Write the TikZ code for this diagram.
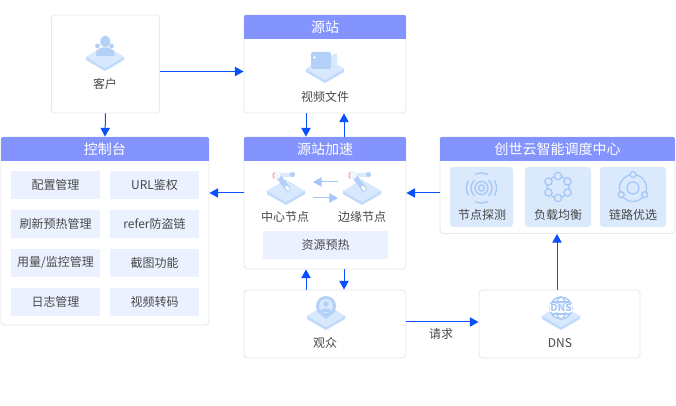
\documentclass[tikz,border=0pt]{standalone}
\usepackage{fontspec}
\setmainfont{Noto Sans CJK SC}
\usepackage{tikz}
\usetikzlibrary{positioning, arrows.meta,calc}
\definecolor{cardline}{HTML}{E8E8E8}
\definecolor{headblue}{HTML}{8494FF}
\definecolor{flowblue}{HTML}{0A50FF}
\definecolor{softblue}{HTML}{A6C8F8}
\definecolor{btnblue}{HTML}{EBF1FF}
\definecolor{tileblue}{HTML}{DAE9FC}
\definecolor{platetop}{HTML}{D7E8FF}
\definecolor{plateside}{HTML}{BFDAFB}
\definecolor{iconblue}{HTML}{B3D0F7}
\definecolor{labelgray}{HTML}{484848}
\tikzset{
	card/.style={draw=cardline, fill=white, rounded corners=2.5pt, inner sep=0pt, line width=0.7pt},
	headtext/.style={text=white, font=\fontsize{10.5pt}{12pt}\selectfont, inner sep=0pt},
	label/.style={text=labelgray, font=\fontsize{9pt}{11pt}\selectfont, inner sep=0pt},
	btn/.style={fill=btnblue, inner sep=0pt, text=labelgray, font=\fontsize{9pt}{11pt}\selectfont},
	btnsmall/.style={btn, minimum width=66.75pt, minimum height=21pt},
	tile/.style={fill=tileblue, rounded corners=2.5pt, inner sep=0pt, minimum height=45pt},
	flow/.style={-{Triangle[length=6.5pt,width=7pt]}, flowblue, line width=0.75pt},
	softflow/.style={-{Triangle[length=6.5pt,width=7pt]}, softblue, line width=0.75pt},
	softline/.style={softblue, line width=1pt},
	plate/.pic={
		\fill[plateside] (-19,0) -- (-19,3) -- (0,14) -- (19,3) -- (19,0) -- (0,-11) -- cycle;
		\fill[platetop] (-19,0) -- (0,-11) -- (19,0) -- (0,11) -- cycle;
	},
	armicon/.pic={
		\fill[plateside] (-19,0) -- (-19,3) -- (0,14) -- (19,3) -- (19,0) -- (0,-11) -- cycle;
		\fill[platetop] (-19,0) -- (0,-11) -- (19,0) -- (0,11) -- cycle;
		\draw[iconblue!45, line width=3.6pt, line cap=round] (-9,-16) -- (6,-16);
		\fill[iconblue] (6.5,-16.5) circle (2.6);
		\draw[iconblue, line width=4pt, line cap=round] (-7,-14) -- (2,-2);
		\draw[white, line width=2pt, line cap=round] (0.5,-4) -- (2.5,-1.5);
		\fill[white!65!platetop] (-9,-16) circle (4);
		\draw[red!40, line width=0.8pt] (-11.6,-12.6) arc (130:230:4);
	}
}
% card with a coloured title bar
\newcommand{\titlebar}[3]{
	\begin{scope}
		\clip[rounded corners=2.5pt] (#1.south west) rectangle (#1.north east);
		\fill[headblue] (#1.north west) rectangle ($(#1.north east)+(0,24)$);
	\end{scope}
	\node[headtext] (#2) at ($(#1.north)+(0,13)$) {#3};
}

\begin{document}
\begin{tikzpicture}[x=0.75pt,y=-0.75pt]
	\useasboundingbox (0,0) rectangle (676,406);
	\fill[white] (0,0) rectangle (676,406);
	
	% Cards
	\node[card, minimum width=81pt, minimum height=73.5pt] (client) at (105.5,64) {};
	\node[card, minimum width=121.5pt, minimum height=73.5pt] (origin) at (325,64) {};
	\node[card, minimum width=121.5pt, minimum height=99pt] (accel) at (325,203) {};
	\node[card, minimum width=156pt, minimum height=141pt] (console) at (105,231) {};
	\node[card, minimum width=176.25pt, minimum height=72.4pt] (sched) at (557.5,185.25) {};
	\node[card, minimum width=121.5pt, minimum height=51pt] (viewer) at (325,324) {};
	\node[card, minimum width=120.75pt, minimum height=51pt] (dns) at (559.5,324) {};
	
	% Title bars
	\titlebar{origin}{originhead}{源站}
	\titlebar{accel}{accelhead}{源站加速}
	\titlebar{console}{consolehead}{控制台}
	\titlebar{sched}{schedhead}{创世云智能调度中心}
	
	% Client icon
	\pic at (105,57) {plate};
	\fill[iconblue] (97.5,46) circle (2.4);
	\fill[iconblue] (111.5,46) circle (2.4);
	\fill[iconblue] (96,56) -- (96.5,50.5) -- (101,48) -- (109,48) -- (114,50.5) -- (114.5,56) -- cycle;
	\fill[iconblue, draw=platetop, line width=0.4pt] (105.3,41.5) ellipse (5 and 6);
	\node[label] (clientlabel) at (105,84) {客户};
	
	% Origin icon
	\pic at (325,69) {plate};
	\fill[platetop] (331,56) -- (337,53) -- (337,71) -- (331,72) -- cycle;
	\fill[iconblue, rounded corners=1.5pt] (311,52) rectangle (331,69);
	\fill[white] (314.5,57.5) circle (1.3);
	\node[label] (originlabel) at (325,97) {视频文件};
	
	% Accel content
	\pic at (286,191) {armicon};
	\pic at (362,191) {armicon};
	\node[label] (center) at (285,217) {中心节点};
	\node[label] (edge) at (362,217) {边缘节点};
	\node[btn, minimum width=93.75pt, minimum height=21pt] (preheat) at (325.5,245) {资源预热};
	\coordinate (edgeleft) at (338,182);
	\coordinate (centerright) at (313,182);
	\coordinate (centerleft) at (313,198);
	\coordinate (edgeright) at (338,198);
	\draw[softflow] (edgeleft) -- (centerright);
	\draw[softflow] (centerleft) -- (edgeright);
	
	% Console buttons
	\node[btnsmall] (cfg) at (55.5,185) {配置管理};
	\node[btnsmall] (url) at (154.5,185) {URL鉴权};
	\node[btnsmall] (refresh) at (55.5,224) {刷新预热管理};
	\node[btnsmall] (refer) at (154.5,224) {refer防盗链};
	\node[btnsmall] (usage) at (55.5,263) {用量/监控管理};
	\node[btnsmall] (shot) at (154.5,263) {截图功能};
	\node[btnsmall] (logs) at (55.5,302) {日志管理};
	\node[btnsmall] (transcode) at (154.5,302) {视频转码};
	
	% Scheduler tiles
	\node[tile, minimum width=47.25pt] (probe) at (481.5,197) {};
	\node[tile, minimum width=49.5pt] (balance) at (558,197) {};
	\node[tile, minimum width=49.5pt] (route) at (633,197) {};
	\node[label] (probelabel) at (482,215) {节点探测};
	\node[label] (balancelabel) at (558,215) {负载均衡};
	\node[label] (routelabel) at (633,215) {链路优选};
	
	% Probe icon
	\begin{scope}[shift={(481.5,188)}, softline]
		\draw (0,0) circle (3);
		\draw (0,0) circle (6.5);
		\draw (-50:10.5) arc (-50:50:10.5);
		\draw (130:10.5) arc (130:230:10.5);
		\draw (-30:15) arc (-30:30:15);
		\draw (150:15) arc (150:210:15);
		\draw (-115:15) arc (-115:-65:15);
		\draw (65:15) arc (65:115:15);
	\end{scope}
	
	% Balance icon
	\begin{scope}[shift={(558,187)}, softline]
		\draw (0,0) circle (11);
		\foreach \a in {30,90,150,210,270,330}
			\draw[fill=tileblue] (\a:11) circle (3.7);
	\end{scope}
	
	% Route icon
	\begin{scope}[shift={(633,188)}, softline]
		\draw (0,0) circle (6);
		\draw (0,0) circle (13.5);
		\draw[fill=tileblue] (-90:13.5) circle (3);
		\draw[fill=tileblue] (30:13.5) circle (3);
		\draw[fill=tileblue] (150:13.5) circle (3);
	\end{scope}
	
	% Viewer icon
	\pic at (326,316) {plate};
	\fill[iconblue] (326,319) -- (317,311) -- (336,311) -- cycle;
	\fill[iconblue] (326,306) circle (10);
	\fill[platetop] (326,306) circle (7);
	\fill[iconblue] (326,304) circle (2.7);
	\fill[iconblue] (320.5,312) .. controls (321,307) and (331,307) .. (331.5,312) -- cycle;
	\node[label] (viewerlabel) at (325,343) {观众};
	
	% DNS icon
	\pic at (561,316) {plate};
	\begin{scope}[shift={(561,308)}, softline]
		\fill[white] (0,0) circle (11);
		\draw (0,0) circle (11);
		\draw (0,0) ellipse (5 and 11);
		\draw (-9,-6) -- (9,-6);
		\draw (-9,6) -- (9,6);
	\end{scope}
	\node[fill=white, inner sep=0.3pt, text=softblue, font=\fontsize{7.5pt}{8pt}\selectfont\bfseries] (dnsmark) at (561,308) {DNS};
	\node[label] (dnslabel) at (560,343) {DNS};
	
	% Connections
	\draw[flow] ($(client.east)+(0,7.5)$) -- ($(origin.west)+(0,7.5)$);
	\draw[flow] (client.south) -- (console.north);
	\draw[flow] ($(origin.south)+(-19,0)$) -- ($(accel.north)+(-19,0)$);
	\draw[flow] ($(accel.north)+(19,0)$) -- ($(origin.south)+(19,0)$);
	\draw[flow] ($(accel.west)+(0,-10)$) -- ($(console.east)+(0,-38)$);
	\draw[flow] ($(sched.west)+(0,7.75)$) -- ($(accel.east)+(0,-10)$);
	\draw[flow] ($(viewer.north)+(-19,0)$) -- ($(accel.south)+(-19,0)$);
	\draw[flow] ($(accel.south)+(19,0)$) -- ($(viewer.north)+(19,0)$);
	\draw[flow] ($(viewer.east)+(0,-2)$) -- ($(dns.west)+(0,-2)$);
	\node[label] (request) at (441,334) {请求};
	\draw[flow] ($(dns.north)+(-2.5,0)$) -- ($(sched.south)+(-0.5,0)$);
\end{tikzpicture}
\end{document}
